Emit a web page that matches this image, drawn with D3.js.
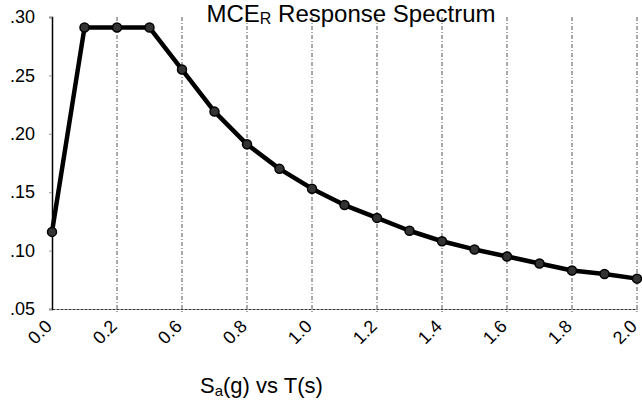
<!DOCTYPE html>
<html>
<head>
<meta charset="utf-8">
<script src="https://cdn.jsdelivr.net/npm/d3@7"></script>
<style>
  body { margin: 0; background: #fff; }
  text { font-family: "Liberation Sans", Arial, sans-serif; fill: #000; }
</style>
</head>
<body>
<svg id="chart" width="642" height="404"></svg>
<script>
// periods T(s) as categories, and Sa(g)
var periods = ["0.0", "0.1", "0.2", "0.4", "0.6", "0.7", "0.8", "0.9", "1.0", "1.1",
               "1.2", "1.3", "1.4", "1.5", "1.6", "1.7", "1.8", "1.9", "2.0"];
var sa = [0.116, 0.291, 0.291, 0.291, 0.255, 0.219, 0.191, 0.170, 0.153, 0.139,
          0.128, 0.117, 0.108, 0.101, 0.095, 0.089, 0.083, 0.080, 0.076];
var xLabels = ["0.0", "0.2", "0.6", "0.8", "1.0", "1.2", "1.4", "1.6", "1.8", "2.0"];
var yTicks = [0.05, 0.10, 0.15, 0.20, 0.25, 0.30];

var svg = d3.select("#chart"),
	margin = {top : 17, right : 5, bottom : 95, left : 52},
	width = +svg.attr("width") - margin.left - margin.right,
	height = +svg.attr("height") - margin.top - margin.bottom;

var x = d3.scalePoint()
	.domain(periods)
	.range([0, width]);

var y = d3.scaleLinear()
	.domain([0.05, 0.30])
	.range([height, 0]);

var g = svg.append("g")
	.attr("transform", "translate(" + margin.left + "," + margin.top + ")");

// vertical grid lines at labelled periods
g.selectAll("line.grid")
	.data(xLabels.slice(1))
	.enter()
	.append("line")
	.attr("class", "grid")
	.attr("x1", d => x(d))
	.attr("x2", d => x(d))
	.attr("y1", 0)
	.attr("y2", height + 4)
	.attr("stroke", "#555")
	.attr("stroke-width", 1)
	.attr("stroke-dasharray", "4,2,1,2");

// x axis (dotted baseline)
var xAxis = d3.axisBottom(x)
	.tickValues(xLabels)
	.tickSize(0)
	.tickPadding(0);

var gx = g.append("g")
	.attr("transform", "translate(0," + height + ")")
	.call(xAxis);
gx.select(".domain")
	.attr("stroke", "#333")
	.attr("stroke-dasharray", "3,1");
gx.selectAll("text")
	.attr("font-size", "18px")
	.attr("text-anchor", "end")
	.attr("x", 0)
	.attr("y", 0)
	.attr("dy", "0.35em")
	.attr("transform", "translate(-4,14) rotate(-45)");

// y axis
var yAxis = d3.axisLeft(y)
	.tickValues(yTicks)
	.tickFormat(d => d3.format(".2f")(d).replace(/^0/, ""))
	.tickSize(3)
	.tickPadding(14);

var gy = g.append("g").call(yAxis);
gy.select(".domain").attr("stroke", "#000").attr("stroke-width", 1.5);
gy.selectAll(".tick line").attr("stroke", "#999");
gy.selectAll("text").attr("font-size", "18px");

// spectrum line
var line = d3.line()
	.x((d, i) => x(periods[i]))
	.y(d => y(d));

g.append("path")
	.datum(sa)
	.attr("fill", "none")
	.attr("stroke", "#000")
	.attr("stroke-width", 4.5)
	.attr("stroke-linejoin", "round")
	.attr("d", line);

g.selectAll("circle.pt")
	.data(sa)
	.enter()
	.append("circle")
	.attr("class", "pt")
	.attr("cx", (d, i) => x(periods[i]))
	.attr("cy", d => y(d))
	.attr("r", 4.5)
	.attr("fill", "#333")
	.attr("stroke", "#000")
	.attr("stroke-width", 1.5);

// title
var title = svg.append("text")
	.attr("x", 351)
	.attr("y", 22)
	.attr("text-anchor", "middle")
	.attr("font-size", "24px");
title.append("tspan").text("MCE");
title.append("tspan").attr("font-size", "16px").attr("dy", "2").text("R");
title.append("tspan").attr("dy", "-2").text(" Response Spectrum");

// x axis title
var xt = svg.append("text")
	.attr("x", 200)
	.attr("y", 393)
	.attr("font-size", "22px");
xt.append("tspan").text("S");
xt.append("tspan").attr("font-size", "15px").attr("dy", "3").text("a");
xt.append("tspan").attr("dy", "-3").text("(g) vs T(s)");
</script>
</body>
</html>
